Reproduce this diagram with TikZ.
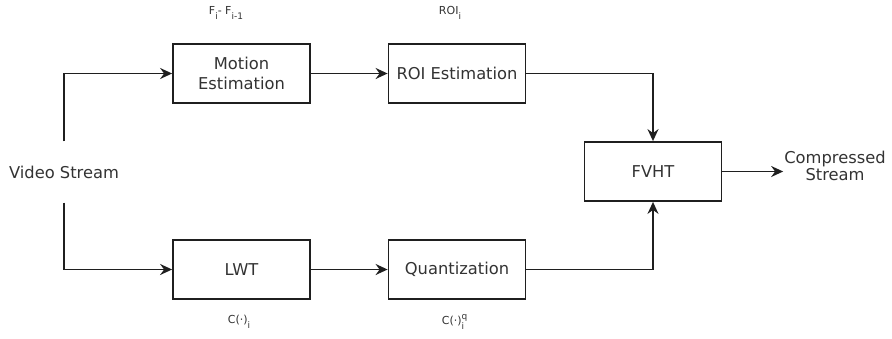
\documentclass[tikz,border=0pt]{standalone}
\usepackage{fontspec}
\setmainfont{DejaVu Sans}
\usetikzlibrary{arrows.meta}
\definecolor{ink}{rgb}{0.12,0.12,0.12}
\definecolor{txt}{rgb}{0.2,0.2,0.2}
% small lowered / raised indices for the signal labels
\newcommand{\lowidx}[1]{\raisebox{-4.5pt}{\fontsize{9}{9}\selectfont #1}}
\newcommand{\highidx}[1]{\raisebox{5pt}{\fontsize{9}{9}\selectfont #1}}
\begin{document}
\begin{tikzpicture}[x=1pt,y=-1pt,
  block/.style={draw=ink,line width=1.8pt,minimum width=137pt,minimum height=59pt,
    inner sep=0pt,align=center,text=txt,font=\fontsize{16.3}{20}\selectfont},
  plain/.style={inner sep=1pt,text=txt,align=center,font=\fontsize{16.3}{19}\selectfont},
  note/.style={inner sep=0pt,text=txt,font=\fontsize{11}{12}\selectfont},
  arr/.style={draw=ink,line width=1.8pt,-{Stealth[length=12pt,width=11pt,inset=4pt]}}]
\useasboundingbox (0,0) rectangle (892,338);
\fill[white] (0,0) rectangle (892,338);

% processing blocks
\node[block] (motion) at (241.5,73.5) {Motion\\Estimation};
\node[block] (roi)    at (457,73.5)   {ROI Estimation};
\node[block] (lwt)    at (241.5,269.5){LWT};
\node[block] (quant)  at (457,269.5)  {Quantization};
\node[block] (fvht)   at (653,171.5)  {FVHT};

% input and output
\node[plain,minimum height=61pt,inner sep=0pt] (video) at (64,172) {Video Stream};
\node[plain] (comp) at (835,166) {Compressed\\[-2pt]Stream};

% signal labels
\node[note] (lfd) at (226,13) {F\lowidx{i}- F\lowidx{i-1}};
\node[note] (lroi) at (450,13) {ROI\lowidx{i}};
\node[note] (lc) at (239,322) {C(·)\lowidx{i}};
\node[note] (lcq) at (453,322) {C(·)\rlap{\highidx{q}}\lowidx{i}};

% connectors
\draw[arr] (video.north) |- (motion.west);
\draw[arr] (video.south) |- (lwt.west);
\draw[arr] (motion) -- (roi);
\draw[arr] (lwt) -- (quant);
\draw[arr] (roi.east) -| (fvht.north);
\draw[arr] (quant.east) -| (fvht.south);
\draw[arr] (fvht.east) -- (fvht.east -| comp.west);
\end{tikzpicture}
\end{document}
